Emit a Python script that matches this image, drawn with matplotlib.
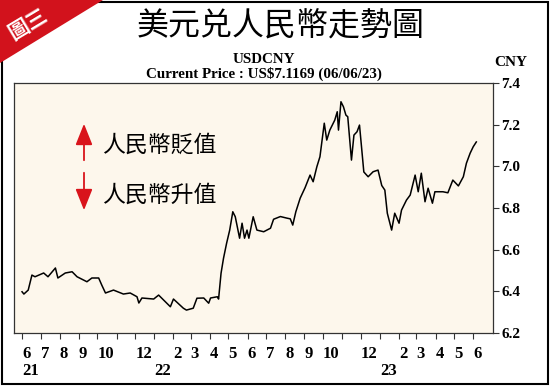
import matplotlib
matplotlib.use("Agg")
import matplotlib.pyplot as plt
from matplotlib.patches import Polygon, Rectangle, FancyArrowPatch
import pandas as pd

# USDCNY
fechas = [
    "2021-06-01", "2021-06-04", "2021-06-11", "2021-06-17", "2021-06-22", "2021-07-06",
    "2021-07-13", "2021-07-25", "2021-07-29", "2021-08-10", "2021-08-21", "2021-08-29",
    "2021-09-14", "2021-09-22", "2021-10-03", "2021-10-08", "2021-10-14", "2021-10-27",
    "2021-11-12", "2021-11-23", "2021-12-04", "2021-12-07", "2021-12-12", "2021-12-31",
    "2022-01-08", "2022-01-27", "2022-02-01", "2022-02-17", "2022-02-22", "2022-03-05",
    "2022-03-11", "2022-03-22", "2022-03-30", "2022-04-02", "2022-04-13", "2022-04-15",
    "2022-04-19", "2022-04-23", "2022-04-28", "2022-05-03", "2022-05-08", "2022-05-12",
    "2022-05-19", "2022-05-23", "2022-05-27", "2022-05-31", "2022-06-03", "2022-06-10",
    "2022-06-16", "2022-06-27", "2022-07-08", "2022-07-13", "2022-07-24", "2022-08-04",
    "2022-08-09", "2022-08-13", "2022-08-18", "2022-08-25", "2022-09-02", "2022-09-10",
    "2022-09-15", "2022-09-21", "2022-09-26", "2022-10-03", "2022-10-07", "2022-10-12",
    "2022-10-20", "2022-10-24", "2022-10-26", "2022-10-30", "2022-11-03", "2022-11-07",
    "2022-11-10", "2022-11-16", "2022-11-20", "2022-11-25", "2022-11-29", "2022-12-02",
    "2022-12-06", "2022-12-13", "2022-12-21", "2022-12-29", "2023-01-04", "2023-01-09",
    "2023-01-13", "2023-01-20", "2023-01-25", "2023-02-01", "2023-02-05", "2023-02-13",
    "2023-02-19", "2023-02-27", "2023-03-04", "2023-03-09", "2023-03-15", "2023-03-20",
    "2023-03-27", "2023-03-31", "2023-04-13", "2023-04-21", "2023-04-29", "2023-05-08",
    "2023-05-16", "2023-05-21", "2023-05-27", "2023-06-01", "2023-06-06",
]
valores = [
    6.398, 6.387, 6.406, 6.478, 6.470, 6.488,
    6.470, 6.512, 6.464, 6.488, 6.494, 6.470,
    6.446, 6.464, 6.464, 6.430, 6.392, 6.406,
    6.387, 6.392, 6.374, 6.344, 6.368, 6.363,
    6.382, 6.326, 6.363, 6.319, 6.310, 6.319,
    6.367, 6.368, 6.343, 6.368, 6.374, 6.363,
    6.487, 6.559, 6.631, 6.694, 6.782, 6.758,
    6.655, 6.727, 6.655, 6.694, 6.655, 6.758,
    6.694, 6.686, 6.703, 6.746, 6.759, 6.751,
    6.748, 6.718, 6.782, 6.847, 6.898, 6.958,
    6.926, 6.998, 7.046, 7.207, 7.126, 7.174,
    7.222, 7.262, 7.174, 7.310, 7.286, 7.246,
    7.238, 7.030, 7.150, 7.166, 7.198, 7.102,
    6.973, 6.950, 6.974, 6.982, 6.908, 6.886,
    6.775, 6.694, 6.775, 6.727, 6.790, 6.838,
    6.862, 6.958, 6.878, 6.967, 6.830, 6.895,
    6.823, 6.878, 6.878, 6.873, 6.934, 6.906,
    6.950, 7.015, 7.063, 7.094, 7.117,
]

meses = pd.date_range("2021-06-01", "2023-06-01", freq="MS")
etiquetas_mes = ["6\n21", "7", "8", "9", "10", "", "12", "\n22", "2", "3", "4", "5",
                 "6", "7", "8", "9", "10", "", "12", "\n23", "2", "3", "4", "5", "6"]
ticks_y = [6.2, 6.4, 6.6, 6.8, 7.0, 7.2, 7.4]

titulo = "美元兑人民幣走勢圖"
subtitulo = "USDCNY\nCurrent Price : US\\$7.1169 (06/06/23)"
texto_bajo = "人民幣貶值"
texto_alto = "人民幣升值"

W, H = 550, 386
cjk = ["Noto Sans CJK TC", "DejaVu Sans"]
serif = "Liberation Serif"

fig = plt.figure(figsize=(W / 100, H / 100), dpi=100)
ax = fig.add_axes([14 / W, 1 - 333 / H, (493 - 14) / W, (333 - 83) / H])
ax.set_facecolor("#fdf7ec")

ax.plot(pd.to_datetime(fechas), valores, color="black", lw=1.1)

ax.set_xlim(pd.Timestamp("2021-05-19"), pd.Timestamp("2023-07-03"))
ax.set_ylim(6.2, 7.4)
ax.set_xticks(meses)
ax.set_xticklabels(etiquetas_mes, ha="left", fontfamily=serif, fontweight="bold",
                   fontsize=12, linespacing=1.15)
ax.set_yticks(ticks_y)
ax.set_yticklabels([f"{v:.1f}" for v in ticks_y], fontfamily=serif,
                   fontweight="bold", fontsize=11)
ax.yaxis.tick_right()
ax.tick_params(axis="x", direction="out", length=4, width=0.8, pad=5, color="#333333")
ax.tick_params(axis="y", direction="out", length=4, width=0.8, pad=2, color="#333333")
for s in ax.spines.values():
    s.set_linewidth(0.9)
    s.set_color("#333333")

def px(x, y):
    return x / W, 1 - y / H

# titulo y textos
fig.text(*px(281, 27), titulo, family=cjk, fontsize=23, ha="center", va="center")
fig.text(*px(264, 67), subtitulo, family=serif, fontweight="bold", fontsize=10.8,
         ha="center", va="center", linespacing=1.0)
fig.text(*px(511, 63), "CNY", family=serif, fontweight="bold", fontsize=11,
         ha="center", va="center")

# flechas rojas
rojo = "#d9141b"
for y0, y1 in [(163, 121), (170, 213)]:
    fig.patches.append(FancyArrowPatch(px(84, y0), px(84, y1), transform=fig.transFigure,
                                       arrowstyle="-|>,head_length=0.65,head_width=0.26",
                                       mutation_scale=20, lw=1.3, color=rojo))
fig.text(*px(102, 145), texto_bajo, family=cjk, fontsize=16.5, ha="left", va="center")
fig.text(*px(102, 195), texto_alto, family=cjk, fontsize=16.5, ha="left", va="center")

# marco y esquina roja
fig.patches.append(Rectangle((2 / W, 2 / H), 1 - 4 / W, 1 - 4 / H, transform=fig.transFigure,
                             fill=False, edgecolor="black", lw=1.5))
fig.patches.append(Polygon([px(0, 0), px(103, 0), px(0, 63)], closed=True,
                           transform=fig.transFigure, facecolor="#d2121c", edgecolor="none"))
fig.text(*px(28, 24), "圖三", family=cjk, fontsize=15, fontweight="bold", color="white",
         rotation=31, ha="center", va="center", rotation_mode="anchor")

fig.savefig("out.png", dpi=100)
